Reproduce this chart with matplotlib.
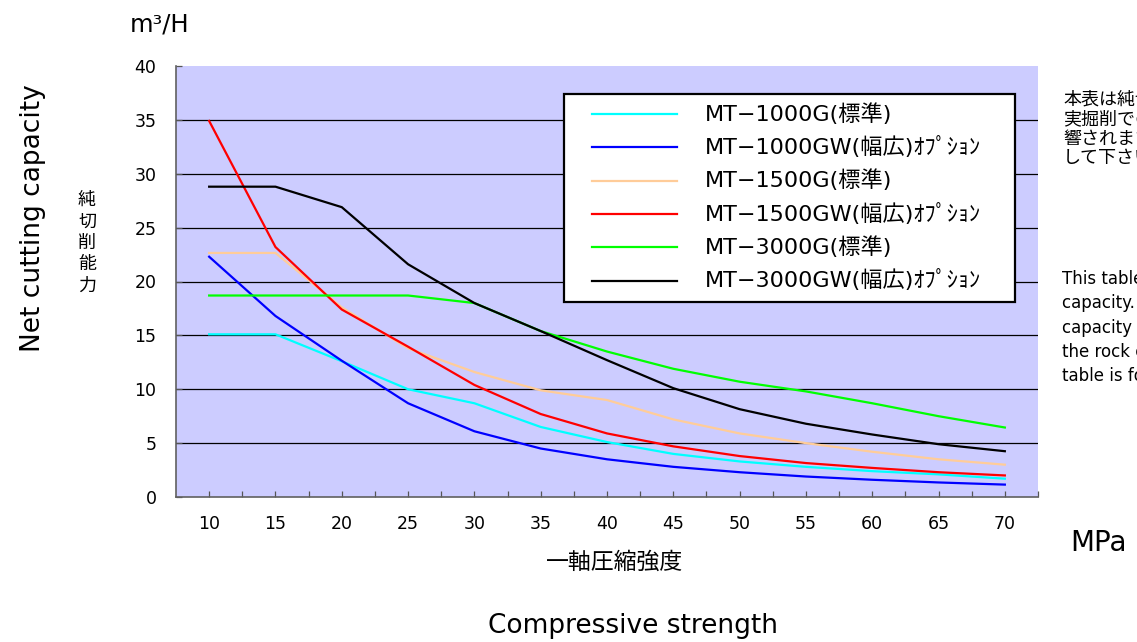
import matplotlib
matplotlib.use("Agg")
import matplotlib.pyplot as plt
from matplotlib.lines import Line2D
from matplotlib.patches import Rectangle
from matplotlib.ticker import FixedLocator

plt.rcParams['font.family'] = ['DejaVu Sans', 'Noto Sans CJK JP']
JP = ['Noto Sans CJK JP', 'DejaVu Sans']

# ---- data ----
strength = [10, 15, 20, 25, 30, 35, 40, 45, 50, 55, 60, 65, 70]
labels = ["MT−1000G(標準)", "MT−1000GW(幅広)ｵﾌﾟｼｮﾝ", "MT−1500G(標準)",
          "MT−1500GW(幅広)ｵﾌﾟｼｮﾝ", "MT−3000G(標準)", "MT−3000GW(幅広)ｵﾌﾟｼｮﾝ"]
mt1000g  = [15.1, 15.1, 12.6, 10.0, 8.7, 6.5, 5.1, 4.0, 3.3, 2.8, 2.4, 2.1, 1.7]
mt1000gw = [22.3, 16.8, 12.65, 8.7, 6.1, 4.5, 3.5, 2.8, 2.3, 1.9, 1.6, 1.35, 1.15]
mt1500g  = [22.65, 22.65, 17.6, 13.8, 11.6, 9.9, 9.0, 7.2, 5.9, 5.0, 4.2, 3.5, 3.0]
mt1500gw = [34.9, 23.2, 17.4, 13.95, 10.4, 7.7, 5.9, 4.7, 3.8, 3.15, 2.7, 2.3, 2.0]
mt3000g  = [18.7, 18.7, 18.7, 18.7, 18.0, 15.4, 13.5, 11.9, 10.7, 9.8, 8.7, 7.5, 6.45]
mt3000gw = [28.8, 28.8, 26.9, 21.6, 18.0, 15.4, 12.7, 10.1, 8.15, 6.8, 5.8, 4.9, 4.25]
series = [mt1000g, mt1000gw, mt1500g, mt1500gw, mt3000g, mt3000gw]
colors = ["#00FFFF", "#0000FF", "#FFCC99", "#FF0000", "#00FF00", "#000000"]
yticks = [0, 5, 10, 15, 20, 25, 30, 35, 40]

W, H = 1137, 642
fig = plt.figure(figsize=(W / 100, H / 100), dpi=100)
ax = fig.add_axes([176 / W, 1 - 497 / H, (1038 - 176) / W, (497 - 66) / H])
ax.set_facecolor("#CCCCFF")

xpos = list(range(len(strength)))
for vals, c in zip(series, colors):
    ax.plot(xpos, vals, color=c, lw=1.6, zorder=3)

ax.set_xlim(-0.5, len(strength) - 0.5)
ax.set_ylim(0, 40)
ax.set_yticks(yticks)
ax.set_yticklabels([str(v) for v in yticks], fontsize=12.5)
for v in yticks[1:-1]:
    ax.axhline(v, color="black", lw=0.9, zorder=1)

ax.xaxis.set_major_locator(FixedLocator(xpos))
ax.xaxis.set_minor_locator(FixedLocator([p + 0.5 for p in xpos]))
ax.set_xticklabels([str(s) for s in strength], fontsize=12.5)
ax.tick_params(axis='x', which='both', direction='in', length=4, width=0.9, color="#555555", pad=13)
ax.tick_params(axis='y', which='both', direction='in', length=4, width=0.9, color="#555555", pad=14)
for s in ["top", "right"]:
    ax.spines[s].set_visible(False)
for s in ["left", "bottom"]:
    ax.spines[s].set_color("#606060")
    ax.spines[s].set_linewidth(1.2)

# ---- legend (manual box) ----
def fx(px):
    return px / W

def fy(py):
    return 1 - py / H

fig.patches.append(Rectangle((fx(564), fy(302)), fx(1015) - fx(564), fy(94) - fy(302),
                             transform=fig.transFigure, facecolor="white",
                             edgecolor="black", lw=1.6, zorder=5))
row0, drow = 114, 33.3
for i, (lab, c) in enumerate(zip(labels, colors)):
    yy = fy(row0 + i * drow)
    fig.add_artist(Line2D([fx(592), fx(677)], [yy, yy], color=c, lw=1.6,
                          transform=fig.transFigure, zorder=6))
    fig.text(fx(705), yy, lab, fontsize=16, va="center", ha="left", zorder=6)

# ---- texts ----
fig.text(fx(160), fy(25), "m³/H", fontsize=17.5, ha="center", va="center")
fig.text(fx(33), fy(218), "Net cutting capacity", fontsize=19, rotation=90,
         ha="center", va="center")
fig.text(fx(87), fy(243), "純\n切\n削\n能\n力", fontsize=13, ha="center",
         va="center", linespacing=1.25, family=JP)
fig.text(fx(615), fy(562), "一軸圧縮強度", fontsize=16.5, ha="center", va="center", family=JP)
fig.text(fx(633), fy(626), "Compressive strength", fontsize=19, ha="center", va="center")
fig.text(fx(1070), fy(543), "MPa", fontsize=20, ha="left", va="center")

jp_note = "本表は純切削能力を示します。\n実掘削での能力は岩盤状況に影\n響されますので、参考値と\nして下さい。"
fig.text(fx(1063), fy(91), jp_note, fontsize=13, ha="left", va="top", linespacing=1.1, family=JP)
en_note = ("This table shows the net cutting\ncapacity. The actual cutting\n"
           "capacity is affected by\nthe rock conditions, so this\ntable is for reference only.")
fig.text(fx(1062), fy(270), en_note, fontsize=12, ha="left", va="top", linespacing=1.45)

fig.savefig("out.png", dpi=100)
